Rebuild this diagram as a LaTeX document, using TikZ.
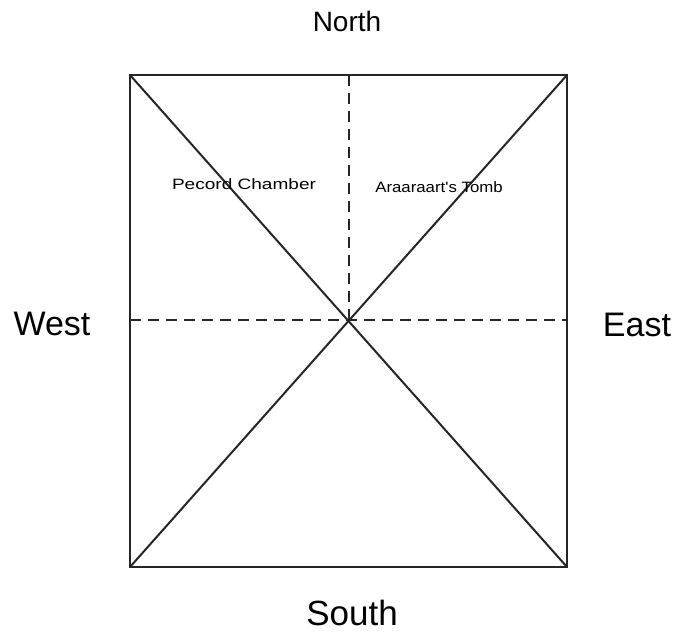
\documentclass[tikz,border=0pt]{standalone}
\usepackage{fontspec}
\setmainfont{Liberation Sans}
\begin{document}
\begin{tikzpicture}[x=1pt,y=-1pt,
  edge/.style={line width=2pt,draw=black!85},
  dashline/.style={line width=2pt,draw=black!85,dash pattern=on 11pt off 7pt},
  big/.style={font=\fontsize{34}{40}\selectfont,anchor=base,inner sep=0pt},
  small/.style={font=\fontsize{15}{18}\selectfont,anchor=base,inner sep=0pt}]
\useasboundingbox (0,0) rectangle (674,632);
\coordinate (tl) at (130,75);
\coordinate (tr) at (567,75);
\coordinate (br) at (567,567);
\coordinate (bl) at (130,567);
\coordinate (c) at (349,320);
\coordinate (tm) at (349,75);
\coordinate (lm) at (130,320);
\coordinate (rm) at (567,320);
\draw[dashline] (tm) -- (c);
\draw[dashline] (lm) -- (rm);
\draw[edge] (tl) -- (br);
\draw[edge] (tr) -- (bl);
\draw[edge] (tl) -- (tr) -- (br) -- (bl) -- cycle;
\node[big,font=\fontsize{28}{34}\selectfont] (north) at (347,31.7) {North};
\node[big,font=\fontsize{35}{42}\selectfont] (south) at (352,625.5) {South};
\node[big] (west) at (52,335.7) {West};
\node[big] (east) at (637,336) {East};
\node[small] (pc) at (244,189) {\scalebox{1.27}[1]{Pecord Chamber}};
\node[small] (at) at (439,192.7) {\scalebox{1.12}[1]{Araaraart\textquotesingle s Tomb}};
\end{tikzpicture}
\end{document}
